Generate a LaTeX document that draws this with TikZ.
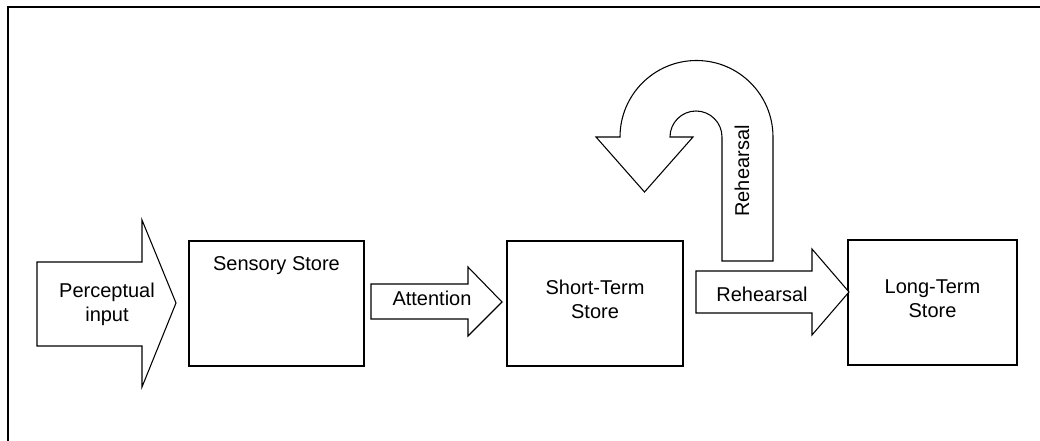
\documentclass[tikz,border=0pt]{standalone}
\usepackage{fontspec}
\setmainfont{Liberation Sans}
\begin{document}
\begin{tikzpicture}[x=0.75pt,y=0.75pt,
  every node/.style={font=\fontsize{15pt}{18pt}\selectfont, inner sep=0pt, align=center},
  store/.style={draw, line width=0.9pt, fill=white},
  blockarrow/.style={draw, line width=0.8pt, fill=white, line join=miter},
  frameline/.style={draw, line width=0.8pt}]
\useasboundingbox (0,0) rectangle (1040,-441);

% open frame along the top and left edges
\draw[frameline] (8,-441) -- (8,-7) -- (1040,-7);

% stores
\node[store, minimum width=131.25pt, minimum height=93.75pt] (sensory) at (276.5,-303.5) {};
\node (sensorylbl) at (276.5,-266) {Sensory Store};
\node[store, minimum width=132pt, minimum height=93.75pt] (sts) at (595,-303.5) {};
\node (stslbl) at (595,-299.5) {Short-Term\\Store};
\node[store, minimum width=126.75pt, minimum height=93.75pt] (lts) at (932.5,-302.5) {};
\node (ltslbl) at (932.5,-299) {Long-Term\\Store};

% perceptual input arrow
\draw[blockarrow] (37,-262) -- (142,-262) -- (142,-220) -- (176,-303) -- (142,-387)
  -- (142,-346) -- (37,-346) -- cycle;
\node (perc) at (107,-304.5) {Perceptual\\input};

% attention arrow
\draw[blockarrow] (371,-284) -- (468,-284) -- (468,-267) -- (502,-302) -- (468,-336)
  -- (468,-319) -- (371,-319) -- cycle;
\node (att) at (432,-298) {Attention};

% rehearsal into long-term store
\draw[blockarrow] (696,-271) -- (812,-271) -- (812,-249) -- (849,-292) -- (812,-335)
  -- (812,-313) -- (696,-313) -- cycle;
\node (reh) at (762,-294) {Rehearsal};

% rehearsal loop back into short-term store
\draw[blockarrow] (722,-261) -- (773,-261) -- (773,-137)
  arc[start angle=0, end angle=180, radius=76.5]
  -- (596,-137) -- (644.5,-192) -- (693,-137) -- (670,-137)
  arc[start angle=180, end angle=0, radius=26]
  -- cycle;
\node[rotate=90] (loop) at (742,-171) {Rehearsal};
\end{tikzpicture}
\end{document}
